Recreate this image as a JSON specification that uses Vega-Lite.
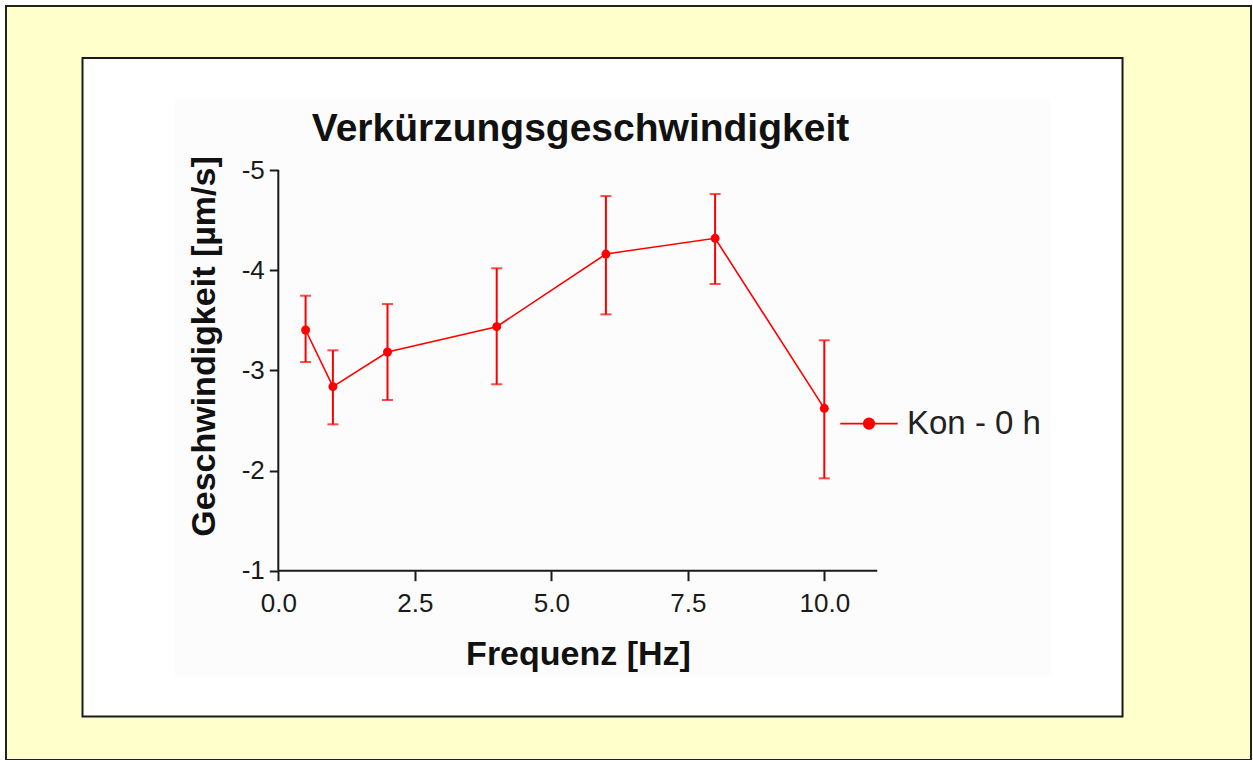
{
  "$schema": "https://vega.github.io/schema/vega-lite/v6.json",
  "width": 1245,
  "height": 754,
  "autosize": {"type": "none"},
  "padding": {"left": 6, "top": 6, "right": 2, "bottom": 0},
  "background": "white",
  "title": {
    "text": "Verkürzungsgeschwindigkeit",
    "font": "Liberation Sans",
    "fontSize": 39,
    "fontWeight": "bold",
    "color": "#111111",
    "anchor": "middle",
    "frame": "group",
    "baseline": "alphabetic",
    "offset": -174,
    "dx": -48
  },
  "config": {
    "font": "Liberation Sans",
    "view": {"fill": "#FFFFCC", "stroke": "#222222", "strokeWidth": 2},
    "axis": {
      "grid": false,
      "domain": false,
      "tickColor": "#1a1a1a",
      "tickWidth": 2,
      "labelFont": "Liberation Sans",
      "labelFontSize": 26,
      "labelColor": "#1a1a1a",
      "titleFont": "Liberation Sans",
      "titleFontSize": 34,
      "titleFontWeight": "bold",
      "titleColor": "#111111"
    }
  },
  "data": {
    "values": [
      {"f": 0.5, "v": -3.403, "lo": -3.745, "hi": -3.083, "serie": "Kon - 0 h"},
      {"f": 1, "v": -2.837, "lo": -3.2, "hi": -2.461, "serie": "Kon - 0 h"},
      {"f": 2, "v": -3.183, "lo": -3.662, "hi": -2.704, "serie": "Kon - 0 h"},
      {"f": 4, "v": -3.436, "lo": -4.019, "hi": -2.861, "serie": "Kon - 0 h"},
      {"f": 6, "v": -4.161, "lo": -4.74, "hi": -3.559, "serie": "Kon - 0 h"},
      {"f": 8, "v": -4.318, "lo": -4.76, "hi": -3.862, "serie": "Kon - 0 h"},
      {"f": 10, "v": -2.621, "lo": -3.3, "hi": -1.922, "serie": "Kon - 0 h"}
    ]
  },
  "encoding": {
    "x": {
      "type": "quantitative",
      "title": "Frequenz [Hz]",
      "scale": {"domain": [-4.9872, 17.815], "nice": false, "zero": false},
      "axis": {
        "zindex": 2,
        "values": [0, 2.5, 5, 7.5, 10],
        "format": ".1f",
        "offset": -189.3,
        "tickSize": 10,
        "labelPadding": 10,
        "titleX": 572,
        "titleY": 94,
        "titleAlign": "center",
        "titleBaseline": "alphabetic"
      }
    },
    "y": {
      "type": "quantitative",
      "title": "Geschwindigkeit [µm/s]",
      "scale": {"domain": [-6.6372, 0.8897], "reverse": true, "nice": false, "zero": false},
      "axis": {
        "zindex": 2,
        "values": [-5, -4, -3, -2, -1],
        "labelExpr": "replace(datum.label, '−', '-')",
        "offset": -272.3,
        "tickSize": 9,
        "labelPadding": 5,
        "titleX": -64,
        "titleY": 340,
        "titleAngle": -90,
        "titleAlign": "center",
        "titleBaseline": "alphabetic"
      }
    }
  },
  "layer": [
    {
      "data": {"values": [{}]},
      "mark": {"type": "rect", "fill": "white", "stroke": "#1a1a1a", "strokeWidth": 2},
      "encoding": {
        "x": {"datum": -3.586},
        "x2": {"datum": 15.462},
        "y": {"datum": -6.118},
        "y2": {"datum": 0.4555}
      }
    },
    {
      "data": {"values": [{}]},
      "mark": {"type": "rect", "fill": "#FCFCFC", "strokeWidth": 0},
      "encoding": {
        "x": {"datum": -1.892},
        "x2": {"datum": 14.134},
        "y": {"datum": -5.716},
        "y2": {"datum": 0.058}
      }
    },
    {
      "data": {"values": [{}]},
      "mark": {"type": "rule", "color": "#1a1a1a", "strokeWidth": 2},
      "encoding": {
        "x": {"datum": 0},
        "x2": {"datum": 10.97},
        "y": {"datum": -1}
      }
    },
    {
      "data": {"values": [{}]},
      "mark": {"type": "rule", "color": "#1a1a1a", "strokeWidth": 2},
      "encoding": {
        "x": {"datum": 0},
        "y": {"datum": -1},
        "y2": {"datum": -5}
      }
    },
    {
      "mark": {"type": "errorbar", "color": "#FF0000", "thickness": 2, "ticks": {"size": 11, "thickness": 2}},
      "encoding": {
        "x": {"field": "f"},
        "y": {"field": "lo"},
        "y2": {"field": "hi"}
      }
    },
    {
      "mark": {"type": "line", "strokeWidth": 1.6},
      "encoding": {
        "x": {"field": "f"},
        "y": {"field": "v"},
        "color": {
          "field": "serie",
          "type": "nominal",
          "scale": {"range": ["#FF0000"]},
          "legend": {
            "title": null,
            "orient": "none",
            "legendX": 833,
            "legendY": 387.6,
            "padding": 0,
            "symbolType": "M-1,0H1M-0.185,0A0.185,0.185,0,1,0,0.185,0A0.185,0.185,0,1,0,-0.185,0Z",
            "symbolSize": 3300,
            "symbolStrokeWidth": 1.6,
            "symbolFillColor": "#FF0000",
            "symbolStrokeColor": "#FF0000",
            "labelFont": "Liberation Sans",
            "labelFontSize": 33,
            "labelColor": "#222222",
            "labelOffset": 8,
            "encode": {"symbols": {"update": {"fill": {"value": "#FF0000"}, "stroke": {"value": "#FF0000"}, "opacity": {"value": 1}}}}
          }
        }
      }
    },
    {
      "mark": {"type": "point", "filled": true, "opacity": 1, "size": 80, "color": "#FF0000"},
      "encoding": {
        "x": {"field": "f"},
        "y": {"field": "v"}
      }
    }
  ]
}
